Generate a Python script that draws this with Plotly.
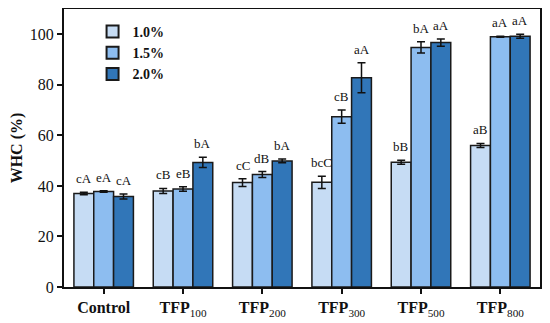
import plotly.graph_objects as go

categories = ["<b>Control</b>", "<b>TFP</b><sub>100</sub>", "<b>TFP</b><sub>200</sub>",
              "<b>TFP</b><sub>300</sub>", "<b>TFP</b><sub>500</sub>", "<b>TFP</b><sub>800</sub>"]
series_names = ["<b>1.0%</b>", "<b>1.5%</b>", "<b>2.0%</b>"]
vals_10 = [37.0, 38.0, 41.3, 41.4, 49.4, 56.0]
err_10 = [0.5, 1.0, 1.5, 2.4, 0.8, 0.8]
vals_15 = [37.8, 38.8, 44.5, 67.4, 94.8, 99.0]
err_15 = [0.3, 0.9, 1.2, 2.6, 2.2, 0.2]
vals_20 = [35.8, 49.3, 49.9, 82.8, 96.7, 99.2]
err_20 = [1.0, 2.0, 0.7, 5.9, 1.4, 0.8]
labels_10 = ["cA", "cB", "cC", "bcC", "bB", "aB"]
labels_15 = ["eA", "eB", "dB", "cB", "bA", "aA"]
labels_20 = ["cA", "bA", "bA", "aA", "aA", "aA"]
colors = ["#c6dcf4", "#8dbdf0", "#3176b8"]

values = [vals_10, vals_15, vals_20]
errors = [err_10, err_15, err_20]
labels = [labels_10, labels_15, labels_20]

fig = go.Figure()
for name, v, e, c in zip(series_names, values, errors, colors):
    fig.add_trace(go.Bar(
        name=name, x=categories, y=v,
        marker=dict(color=c, line=dict(color="#1a1a1a", width=1.5)),
        error_y=dict(type="data", array=e, visible=True, color="#111", thickness=1.5, width=4),
    ))

bargap = 0.25
bw = (1 - bargap) / 3
annotations = []
for si in range(3):
    off = (si - 1) * bw
    for ci in range(len(categories)):
        annotations.append(dict(
            x=ci + off, y=values[si][ci] + errors[si][ci], xref="x", yref="y",
            text=labels[si][ci], showarrow=False, yanchor="bottom", yshift=4,
            font=dict(family="Liberation Serif", size=13, color="#111"),
        ))

fig.update_layout(
    width=542, height=315,
    margin=dict(l=56, r=10, t=1, b=36),
    paper_bgcolor="white", plot_bgcolor="white",
    barmode="group", bargap=bargap, bargroupgap=0,
    font=dict(family="Liberation Serif", color="#111"),
    showlegend=True,
    legend=dict(x=0.06, y=0.975, xanchor="left", yanchor="top",
                font=dict(family="Liberation Serif", size=14, color="#111"),
                bgcolor="rgba(0,0,0,0)", tracegroupgap=0, itemsizing="constant"),
    annotations=annotations,
)
fig.update_xaxes(
    range=[-0.5, 5.5], showline=True, linecolor="#111", linewidth=2, mirror=True,
    ticks="outside", ticklen=5, tickwidth=2, tickcolor="#111", automargin=False,
    tickfont=dict(family="Liberation Serif", size=16, color="#111"),
)
fig.update_yaxes(
    range=[0, 110], tickvals=[0, 20, 40, 60, 80, 100], showgrid=False, zeroline=False,
    showline=True, linecolor="#111", linewidth=2, mirror=True, automargin=False,
    ticks="outside", ticklen=5, tickwidth=2, tickcolor="#111",
    tickfont=dict(family="Liberation Serif", size=16, color="#111"),
    tickprefix="<b>", ticksuffix="</b>",
    title=dict(text="<b>WHC (%)</b>", font=dict(family="Liberation Serif", size=16, color="#111")),
)

fig.write_html("out.html")
